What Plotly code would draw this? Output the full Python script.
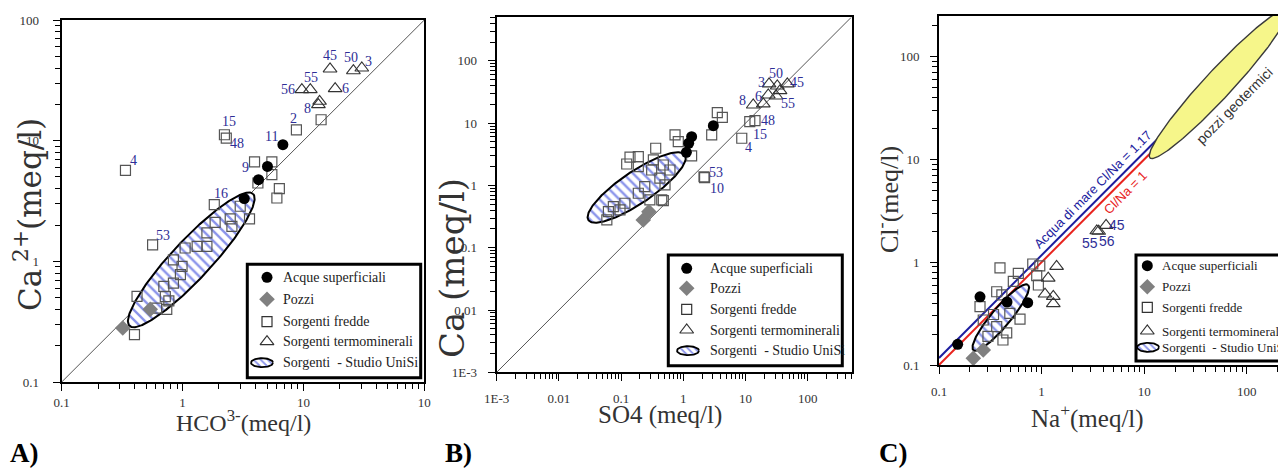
import numpy as np
import plotly.graph_objects as go

W, H = 1278, 471

# ---------------- DATA ----------------
# Panel A : Ca2+ vs HCO3-
A_sup_x = [6.76, 5.04, 4.25, 3.24]
A_sup_y = [9.27, 6.12, 4.75, 3.31]
A_sup_lab = ["11", "9", "", ""]
A_poz_x = [0.32, 0.54]
A_poz_y = [0.28, 0.40]
A_fr_x = [0.337, 2.22, 2.30, 8.75, 14.0, 3.94, 5.48, 5.48, 4.2, 6.32, 6.03, 3.58, 1.83, 0.565,
          0.42, 0.40, 3.0, 2.48, 2.56, 1.86, 1.59, 1.59, 1.32, 1.05, 0.84, 0.99, 0.96, 0.84,
          0.70, 0.72, 0.77, 0.61, 0.74]
A_fr_y = [5.68, 11.2, 10.5, 12.3, 14.9, 6.66, 6.66, 5.23, 4.46, 4.0, 3.35, 2.25, 2.95, 1.37,
          0.513, 0.247, 2.86, 2.25, 1.95, 2.1, 1.72, 1.33, 1.33, 1.29, 1.03, 0.91, 0.776, 0.66,
          0.62, 0.51, 0.47, 0.41, 0.40]
A_fr_lab = ["4", "15", "48", "2", "", "", "", "", "", "", "", "", "16", "53",
            "", "", "", "", "", "", "", "", "", "", "", "", "", "", "", "", "", "", ""]
A_tm_x = [16.6, 25.9, 30.4, 9.7, 11.4, 18.3, 13.3, 13.6]
A_tm_y = [39.3, 38.0, 40.0, 26.5, 26.5, 27.0, 19.9, 21.2]
A_tm_lab = ["45", "50", "3", "56", "55", "6", "8", ""]

# Panel B : Ca vs SO4
B_sup_x = [3.04, 1.36, 1.22, 1.12]
B_sup_y = [9.1, 6.08, 4.76, 3.4]
B_poz_x = [0.227, 0.28]
B_poz_y = [0.279, 0.38]
B_fr_x = [14.2, 11.7, 8.7, 2.15, 2.2, 3.52, 4.24, 2.86, 1.36, 0.736, 0.83, 0.36, 0.139, 0.189,
          0.123, 0.189, 0.33, 0.477, 0.477, 0.31, 0.61, 0.42, 0.508, 0.24, 0.189, 0.29, 0.45,
          0.115, 0.096, 0.0625, 0.059, 0.075]
B_fr_y = [11.0, 10.6, 5.73, 1.38, 1.34, 14.8, 12.4, 6.5, 2.98, 6.5, 5.05, 3.96, 2.84, 2.9,
          2.21, 2.0, 2.57, 0.57, 2.13, 1.77, 1.77, 1.31, 1.02, 0.96, 0.75, 0.585, 0.585,
          0.518, 0.404, 0.38, 0.28, 0.457]
B_fr_lab = ["48", "15", "4", "53", "10"] + [""] * 27
B_tm_x = [13.3, 19.3, 23.2, 23.9, 32.4, 47.0, 31.0, 35.9]
B_tm_y = [19.6, 20.4, 28.4, 42.7, 39.6, 42.7, 27.3, 33.3]
B_tm_lab = ["8", "", "6", "3", "50", "45", "55", ""]

# Panel C : Cl- vs Na+
C_sup_x = [0.152, 0.251, 0.732, 0.46]
C_sup_y = [0.159, 0.461, 0.404, 0.41]
C_poz_x = [0.216, 0.27]
C_poz_y = [0.116, 0.14]
C_fr_x = [0.393, 0.593, 0.82, 0.96, 0.896, 0.93, 0.53, 0.365, 0.251, 0.41, 0.616, 0.42, 0.457,
          0.27, 0.365, 0.30, 0.49, 0.34]
C_fr_y = [0.88, 0.78, 0.96, 0.92, 0.74, 0.60, 0.65, 0.516, 0.369, 0.48, 0.279, 0.175, 0.205,
          0.274, 0.236, 0.19, 0.318, 0.31]
C_tm_x = [1.4, 1.16, 1.08, 1.3, 1.3, 3.45, 3.6, 4.25]
C_tm_y = [0.91, 0.70, 0.49, 0.465, 0.395, 2.02, 2.0, 2.28]
C_tm_lab = ["", "", "", "", "", "55", "56", "45"]
C_ratio_sea = 1.17
C_ratio_one = 1.0
C_sea_xmax = 15.0
C_one_xmax = 11.8

legend_labels = ["Acque superficiali", "Pozzi", "Sorgenti fredde", "Sorgenti termominerali",
                 "Sorgenti  - Studio UniSi"]

# region ellipses (log10 centre, semi-axes in decades, angle deg)
ELL_A = (0.072, 0.012, 0.749, 0.161, 47)
ELL_B = (-0.749, -0.032, 0.937, 0.257, 34)
ELL_C = (-0.398, -0.538, 0.415, 0.0925, 50)
ELL_GEO = (1.725, 1.733, 0.982, 0.136, 47.1)

# --------------- STYLE / LAYOUT ---------------
SERIF = "Liberation Serif, Times New Roman, serif"
WSERIF = "DejaVu Serif, serif"
SANS = "Liberation Sans, Arial, sans-serif"
LABC = "#2e2e96"

PAN = {
    "A": dict(px=(61.7, 424.3, 20, 382), xr=(-1, 2), yr=(-1, 2)),
    "B": dict(px=(496.7, 851.7, 17.3, 372.3), xr=(-3, 2.707), yr=(-3, 2.70)),
    "C": dict(px=(939, 1278, 16, 365), xr=(-1, -1 + (1278 - 939) / 102.6), yr=(-1, -1 + 349 / 102.8)),
}

def ellipse(p, n=240):
    cx, cy, a, b, ang = p
    t = np.linspace(0, 2 * np.pi, n)
    th = np.radians(ang)
    lx = cx + a * np.cos(t) * np.cos(th) - b * np.sin(t) * np.sin(th)
    ly = cy + a * np.cos(t) * np.sin(th) + b * np.sin(t) * np.cos(th)
    return 10 ** lx, 10 ** ly

def minor_vals(lo, hi):
    out = []
    for d in range(int(np.floor(lo)), int(np.ceil(hi)) + 1):
        for m in range(2, 10):
            v = m * 10.0 ** d
            if 10 ** lo <= v <= 10 ** hi:
                out.append(v)
    return out

fig = go.Figure()

HATCH = dict(shape="\\", fgcolor="#1426d6", bgcolor="white", size=7, solidity=0.34)

def add_panel(xa, ya, sup, poz, fr, tm, ell, diag=None):
    if diag is not None:
        fig.add_trace(go.Scatter(x=diag, y=diag, mode="lines", line=dict(color="#555", width=1),
                                 xaxis=xa, yaxis=ya, hoverinfo="skip"))
    ex, ey = ellipse(ell)
    fig.add_trace(go.Scatter(x=ex, y=ey, mode="lines", fill="toself", fillcolor="white",
                             fillpattern=HATCH, line=dict(color="black", width=2),
                             xaxis=xa, yaxis=ya, hoverinfo="skip"))
    fig.add_trace(go.Scatter(x=fr[0], y=fr[1], mode="markers",
                             marker=dict(symbol="square-open", size=10, color="#555",
                                         line=dict(width=1.2, color="#555")),
                             xaxis=xa, yaxis=ya))
    fig.add_trace(go.Scatter(x=tm[0], y=tm[1], mode="markers",
                             marker=dict(symbol="triangle-up-open", size=12, color="#333",
                                         line=dict(width=1.1, color="#333")),
                             xaxis=xa, yaxis=ya))
    fig.add_trace(go.Scatter(x=poz[0], y=poz[1], mode="markers",
                             marker=dict(symbol="diamond", size=12, color="#808080"),
                             xaxis=xa, yaxis=ya))
    fig.add_trace(go.Scatter(x=sup[0], y=sup[1], mode="markers",
                             marker=dict(symbol="circle", size=11, color="black"),
                             xaxis=xa, yaxis=ya))

add_panel("x", "y", (A_sup_x, A_sup_y), (A_poz_x, A_poz_y), (A_fr_x, A_fr_y), (A_tm_x, A_tm_y),
          ELL_A, diag=[0.1, 100])
add_panel("x2", "y2", (B_sup_x, B_sup_y), (B_poz_x, B_poz_y), (B_fr_x, B_fr_y), (B_tm_x, B_tm_y),
          ELL_B, diag=[1e-3, 500])
for ratio, xmax, col in [(C_ratio_sea, C_sea_xmax, "#1c1c9e"), (C_ratio_one, C_one_xmax, "#e8231d")]:
    fig.add_trace(go.Scatter(x=[0.1, xmax], y=[0.1 * ratio, xmax * ratio], mode="lines",
                             line=dict(color=col, width=2), xaxis="x3", yaxis="y3"))
gx, gy = ellipse(ELL_GEO)
fig.add_trace(go.Scatter(x=gx, y=gy, mode="lines", fill="toself", fillcolor="#f6f68a",
                         line=dict(color="#3a3a3a", width=1.4), xaxis="x3", yaxis="y3"))
add_panel("x3", "y3", (C_sup_x, C_sup_y), (C_poz_x, C_poz_y), (C_fr_x, C_fr_y), (C_tm_x, C_tm_y),
          ELL_C)

# ---------- axes ----------
layout_axes = {}
for k, (xn, yn) in zip("ABC", [("xaxis", "yaxis"), ("xaxis2", "yaxis2"), ("xaxis3", "yaxis3")]):
    p = PAN[k]
    l, r, t, b = p["px"]
    ticks_x = [10.0 ** e for e in range(int(np.ceil(p["xr"][0])), int(np.floor(p["xr"][1])) + 1)]
    ticks_y = [10.0 ** e for e in range(int(np.ceil(p["yr"][0])), int(np.floor(p["yr"][1])) + 1)]
    def fmt(v):
        if v < 0.005:
            return "1E-3"
        return ("%g" % v)
    tx = [fmt(v) for v in ticks_x]
    ty = [fmt(v) for v in ticks_y]
    if k == "A":
        tx = ["0.1", "1", "10", "10"]
    anchor_x = yn.replace("yaxis", "y")
    anchor_y = xn.replace("xaxis", "x")
    common = dict(type="log", showline=True, linecolor="black", linewidth=2, ticks="outside",
                  ticklen=7, tickwidth=1.4, tickcolor="black", showgrid=False, zeroline=False,
                  tickfont=dict(family=SERIF, size=13, color="#333"), fixedrange=True,
                  automargin=False)
    layout_axes[xn] = dict(common, domain=[l / W, r / W], range=list(p["xr"]), anchor=anchor_x,
                           tickvals=ticks_x, ticktext=tx, mirror=True,
                           ticklabelstandoff=(0 if k == "A" else 6),
                           minor=dict(ticks="outside", ticklen=5, tickwidth=1.2, tickcolor="black",
                                      tickvals=minor_vals(*p["xr"]), showgrid=False))
    layout_axes[yn] = dict(common, domain=[1 - b / H, 1 - t / H], range=list(p["yr"]), anchor=anchor_y,
                           tickvals=ticks_y, ticktext=ty, mirror=(k != "C"),
                           ticklabelstandoff=(11 if k == "A" else 8),
                           minor=dict(ticks="outside", ticklen=5, tickwidth=1.2, tickcolor="black",
                                      tickvals=minor_vals(*p["yr"]), showgrid=False))

layout_axes["xaxis4"] = dict(domain=[0, 1], range=[0, W], visible=False, fixedrange=True, anchor="y4")
layout_axes["yaxis4"] = dict(domain=[0, 1], range=[H, 0], visible=False, fixedrange=True, anchor="x4")

annotations = []
shapes = []

def pa(x, y):
    return x / W, 1 - y / H

SHIFT_A = {"4": (8, 10), "15": (5, 13), "48": (11, -5), "11": (-11, 8), "9": (-22, -1), "2": (-3, 11),
           "8": (-11, -4), "56": (-14, 0), "55": (1, 12), "45": (0, 13), "50": (-2, 13), "3": (7, 7),
           "6": (10, 0), "16": (7, 11), "53": (10, 9)}
SHIFT_B = {"8": (-11, 4), "6": (-10, -2), "3": (-8, 1), "50": (-1, 12), "45": (10, 1), "55": (12, -7),
           "48": (13, 0), "15": (10, -13), "4": (7, -9), "53": (12, 4), "10": (12, -11)}
SHIFT_C = {"55": (-7, -12), "56": (8, -10), "45": (11, 0)}

def add_labels(xs, ys, labs, shifts, xr, yr, fam):
    for x, y, lab in zip(xs, ys, labs):
        if not lab:
            continue
        dx, dy = shifts[lab]
        annotations.append(dict(x=np.log10(x), y=np.log10(y), xref=xr, yref=yr, text=lab,
                                showarrow=False, xshift=dx, yshift=dy, xanchor="center",
                                yanchor="middle", font=dict(family=fam, size=14, color=LABC)))

add_labels(A_sup_x, A_sup_y, A_sup_lab, SHIFT_A, "x", "y", SERIF)
add_labels(A_fr_x, A_fr_y, A_fr_lab, SHIFT_A, "x", "y", SERIF)
add_labels(A_tm_x, A_tm_y, A_tm_lab, SHIFT_A, "x", "y", SERIF)
add_labels(B_fr_x, B_fr_y, B_fr_lab, SHIFT_B, "x2", "y2", SERIF)
add_labels(B_tm_x, B_tm_y, B_tm_lab, SHIFT_B, "x2", "y2", SERIF)
add_labels(C_tm_x, C_tm_y, C_tm_lab, SHIFT_C, "x3", "y3", SANS)

annotations.append(dict(x=np.log10(3.7), y=np.log10(3.7 * C_ratio_sea), xref="x3", yref="y3",
                        text="Acqua di mare Cl/Na = 1.17", textangle=-45, showarrow=False,
                        xanchor="center", yanchor="middle",
                        xshift=-7, yshift=7, font=dict(family=SANS, size=13, color="#1c1c9e")))
annotations.append(dict(x=np.log10(5.6), y=np.log10(5.6 * C_ratio_one), xref="x3", yref="y3",
                        text="Cl/Na = 1", textangle=-45, showarrow=False,
                        xanchor="center", yanchor="middle",
                        xshift=7, yshift=-7, font=dict(family=SANS, size=13, color="#e8231d")))
x0, y0 = pa(1234, 106)
annotations.append(dict(x=x0, y=y0, xref="paper", yref="paper", text="pozzi geotermici",
                        textangle=-45, showarrow=False, xanchor="center", yanchor="middle",
                        font=dict(family=SANS, size=14, color="#333")))

TITLES = [("HCO<sup>3-</sup>(meq/l)", 243, 421, 0, 24, SERIF),
          ("Ca<sup> 2+</sup>(meq/l)", 28, 215, -90, 31, WSERIF),
          ("SO4 (meq/l)", 660, 415, 0, 25, SERIF),
          ("Ca (meq/l)", 452, 268, -90, 34, WSERIF),
          ("Na<sup>+</sup>(meq/l)", 1087, 416, 0, 25, SERIF),
          ("Cl<sup>-</sup>(meq/l)", 887, 200, -90, 26, SERIF)]
for txt, x, y, ang, sz, fam in TITLES:
    px_, py_ = pa(x, y)
    annotations.append(dict(x=px_, y=py_, xref="paper", yref="paper", text=txt, textangle=ang,
                            showarrow=False, xanchor="center", yanchor="middle",
                            font=dict(family=fam, size=sz, color="#333")))

for txt, x in [("A)", 8), ("B)", 443), ("C)", 877)]:
    px_, py_ = pa(x, 453)
    annotations.append(dict(x=px_, y=py_, xref="paper", yref="paper", text="<b>%s</b>" % txt,
                            xanchor="left", yanchor="middle", showarrow=False,
                            font=dict(family=SERIF, size=27, color="black")))

LEG = [
    dict(box=(247.3, 264.3, 420.7, 377.7), mx=267, tx=281, rows=[277.3, 299.3, 321.7, 341.7, 362.7], fs=14, ex=262),
    dict(box=(668.3, 255, 842.3, 365.7), mx=686.7, tx=708.3, rows=[268.3, 288.3, 309.3, 330, 350.7], fs=14, ex=688),
    dict(box=(1136, 255, 1295, 361), mx=1147.3, tx=1160, rows=[265.7, 286.7, 307.3, 331, 347.3], fs=13, ex=1148),
]
for lg in LEG:
    x0, y0, x1, y1 = lg["box"]
    shapes.append(dict(type="rect", xref="paper", yref="paper", x0=x0 / W, x1=x1 / W,
                       y0=1 - y1 / H, y1=1 - y0 / H, line=dict(color="black", width=3),
                       fillcolor="rgba(0,0,0,0)", layer="above"))
    r = lg["rows"]
    fig.add_trace(go.Scatter(x=[lg["mx"]], y=[r[0]], mode="markers", xaxis="x4", yaxis="y4",
                             marker=dict(symbol="circle", size=11, color="black")))
    fig.add_trace(go.Scatter(x=[lg["mx"]], y=[r[1]], mode="markers", xaxis="x4", yaxis="y4",
                             marker=dict(symbol="diamond", size=12, color="#808080")))
    fig.add_trace(go.Scatter(x=[lg["mx"]], y=[r[2]], mode="markers", xaxis="x4", yaxis="y4",
                             marker=dict(symbol="square-open", size=10, color="#333",
                                         line=dict(width=1.2, color="#333"))))
    fig.add_trace(go.Scatter(x=[lg["mx"]], y=[r[3]], mode="markers", xaxis="x4", yaxis="y4",
                             marker=dict(symbol="triangle-up-open", size=12, color="#333",
                                         line=dict(width=1.2, color="#333"))))
    t = np.linspace(0, 2 * np.pi, 60)
    fig.add_trace(go.Scatter(x=lg["ex"] + 11 * np.cos(t), y=r[4] + 4.5 * np.sin(t), mode="lines",
                             fill="toself", fillcolor="white",
                             fillpattern=dict(shape="\\", fgcolor="#1426d6", bgcolor="white", size=5,
                                              solidity=0.35),
                             line=dict(color="black", width=1.8), xaxis="x4", yaxis="y4"))
    for lab, yy in zip(legend_labels, r):
        px_, py_ = pa(lg["tx"], yy)
        annotations.append(dict(x=px_, y=py_, xref="paper", yref="paper", text=lab, xanchor="left",
                                yanchor="middle", showarrow=False,
                                font=dict(family=SERIF, size=lg["fs"], color="#222")))

fig.update_layout(width=W, height=H, margin=dict(l=0, r=0, t=0, b=0, autoexpand=False),
                  showlegend=False, paper_bgcolor="white", plot_bgcolor="rgba(0,0,0,0)",
                  annotations=annotations, shapes=shapes, **layout_axes)
fig.write_html("out.html")
